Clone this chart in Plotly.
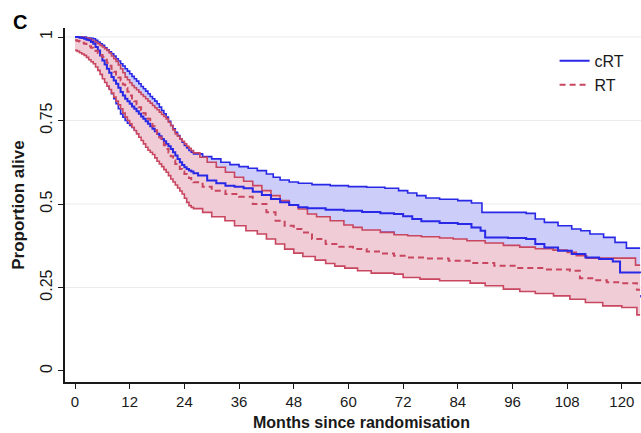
import plotly.graph_objects as go

# ---------------- data ----------------
# early follow-up read every half month (0 .. 26 months)
early_months = [0, 0.5, 1, 1.5, 2, 2.5, 3, 3.5, 4, 4.5,
                5, 5.5, 6, 6.5, 7, 7.5, 8, 8.5, 9, 9.5,
                10, 10.5, 11, 11.5, 12, 12.5, 13, 13.5, 14, 14.5,
                15, 15.5, 16, 16.5, 17, 17.5, 18, 18.5, 19, 19.5,
                20, 20.5, 21, 21.5, 22, 22.5, 23, 23.5, 24, 24.5,
                25, 25.5, 26]

# cRT Kaplan-Meier estimate
crt_surv_early = [1.0, 1.0, 0.998, 0.997, 0.995, 0.992, 0.99, 0.985, 0.98, 0.97,
                  0.96, 0.945, 0.93, 0.918, 0.905, 0.893, 0.88, 0.87, 0.86, 0.848,
                  0.835, 0.825, 0.815, 0.808, 0.80, 0.792, 0.785, 0.778, 0.77, 0.762,
                  0.755, 0.748, 0.74, 0.733, 0.725, 0.718, 0.71, 0.703, 0.695, 0.688,
                  0.68, 0.673, 0.665, 0.655, 0.645, 0.635, 0.625, 0.617, 0.61, 0.605,
                  0.60, 0.597, 0.592]
crt_months_late = [27, 29, 31, 33, 35, 37, 39, 41, 43, 45, 47, 49, 51, 55, 59, 63, 67, 70, 72, 74, 76, 80, 84, 87,
                   89, 90, 95, 99, 101, 103, 106, 109, 112, 115, 118, 119.6, 124]
crt_surv_late = [0.585, 0.57, 0.562, 0.555, 0.552, 0.547, 0.537, 0.527, 0.515, 0.505, 0.497, 0.49, 0.487, 0.483,
                 0.48, 0.476, 0.472, 0.47, 0.463, 0.455, 0.448, 0.443, 0.44, 0.43, 0.42, 0.40, 0.398, 0.395, 0.38,
                 0.37, 0.36, 0.35, 0.34, 0.335, 0.328, 0.295, 0.293]

# cRT upper confidence limit
crt_upper_early = [1.0, 1.0, 1.0, 1.0, 1.0, 0.998, 0.997, 0.996, 0.995, 0.99,
                   0.985, 0.98, 0.975, 0.968, 0.962, 0.956, 0.95, 0.943, 0.935, 0.928,
                   0.92, 0.913, 0.905, 0.898, 0.89, 0.882, 0.875, 0.868, 0.86, 0.852,
                   0.845, 0.838, 0.83, 0.822, 0.815, 0.808, 0.80, 0.79, 0.78, 0.77,
                   0.76, 0.748, 0.735, 0.725, 0.715, 0.705, 0.695, 0.685, 0.675, 0.668,
                   0.66, 0.655, 0.65]
crt_upper_months_late = [28, 30, 32, 34, 36, 38, 40, 42, 43.5, 45, 47, 49, 52, 56, 60, 64, 68, 71, 73, 75, 77, 80,
                         84, 87, 89.3, 99, 101, 103, 106, 109, 111, 113, 116, 118.5, 121, 124]
crt_upper_late = [0.642, 0.635, 0.625, 0.618, 0.612, 0.607, 0.60, 0.59, 0.58, 0.572, 0.566, 0.562, 0.558, 0.555,
                  0.552, 0.55, 0.547, 0.54, 0.533, 0.525, 0.518, 0.514, 0.51, 0.503, 0.475, 0.472, 0.455, 0.445,
                  0.435, 0.425, 0.42, 0.41, 0.40, 0.385, 0.368, 0.368]

# cRT lower confidence limit
crt_lower_early = [1.0, 0.998, 0.995, 0.99, 0.985, 0.973, 0.96, 0.948, 0.935, 0.922,
                   0.91, 0.898, 0.885, 0.873, 0.86, 0.845, 0.83, 0.815, 0.80, 0.785,
                   0.77, 0.76, 0.75, 0.742, 0.735, 0.729, 0.723, 0.716, 0.71, 0.704,
                   0.698, 0.691, 0.685, 0.677, 0.67, 0.662, 0.655, 0.648, 0.64, 0.633,
                   0.625, 0.618, 0.61, 0.603, 0.595, 0.586, 0.577, 0.568, 0.56, 0.553,
                   0.546, 0.54, 0.535]
crt_lower_months_late = [27, 30, 35, 40, 45, 50, 60, 70, 76, 84, 90, 100, 105, 112, 119.6, 124]
crt_lower_late = [0.53, 0.51, 0.49, 0.465, 0.44, 0.425, 0.415, 0.405, 0.38, 0.37, 0.33, 0.32, 0.295, 0.27, 0.225,
                  0.22]

# RT Kaplan-Meier estimate
rt_surv_early = [0.99, 0.988, 0.986, 0.983, 0.98, 0.976, 0.972, 0.968, 0.965, 0.958,
                 0.952, 0.946, 0.94, 0.932, 0.923, 0.914, 0.905, 0.896, 0.888, 0.879,
                 0.87, 0.858, 0.847, 0.836, 0.825, 0.816, 0.808, 0.799, 0.79, 0.781,
                 0.772, 0.763, 0.755, 0.744, 0.733, 0.721, 0.71, 0.699, 0.688, 0.676,
                 0.665, 0.654, 0.643, 0.631, 0.62, 0.612, 0.605, 0.597, 0.59, 0.584,
                 0.578, 0.571, 0.565]
rt_months_late = [28, 30, 33, 36, 39, 42, 44, 46, 48, 50, 52, 55, 58, 61, 64, 67, 70, 73, 77, 82, 87, 92, 97, 103,
                  108.6, 110.8, 114, 116.7, 120, 123.3, 124]
rt_surv_late = [0.552, 0.54, 0.53, 0.522, 0.50, 0.475, 0.45, 0.435, 0.425, 0.415, 0.395, 0.38, 0.372, 0.365,
                0.358, 0.352, 0.345, 0.34, 0.337, 0.33, 0.323, 0.315, 0.308, 0.304, 0.30, 0.278, 0.272, 0.266,
                0.263, 0.243, 0.243]

# RT upper confidence limit
rt_upper_early = [1.0, 1.0, 1.0, 0.999, 0.998, 0.997, 0.995, 0.991, 0.987, 0.984,
                  0.98, 0.975, 0.97, 0.965, 0.96, 0.952, 0.943, 0.935, 0.927, 0.916,
                  0.905, 0.893, 0.88, 0.872, 0.863, 0.855, 0.848, 0.842, 0.835, 0.828,
                  0.822, 0.815, 0.808, 0.802, 0.795, 0.788, 0.782, 0.775, 0.768, 0.762,
                  0.755, 0.745, 0.735, 0.722, 0.71, 0.703, 0.695, 0.688, 0.68, 0.673,
                  0.667, 0.66, 0.653]
rt_upper_months_late = [27.4, 29, 31, 33, 35, 37, 39, 41, 43, 45, 47, 49, 51, 53, 56, 59, 61, 63, 67, 70, 73, 76,
                        80, 83, 86, 90, 94, 97.6, 101, 104.9, 108, 110, 112.3, 120, 123, 124]
rt_upper_late = [0.64, 0.625, 0.61, 0.595, 0.58, 0.568, 0.555, 0.54, 0.525, 0.51, 0.497, 0.485, 0.47, 0.462, 0.45,
                 0.437, 0.43, 0.422, 0.415, 0.408, 0.405, 0.402, 0.398, 0.395, 0.39, 0.383, 0.376, 0.371, 0.366,
                 0.362, 0.355, 0.345, 0.338, 0.338, 0.317, 0.317]

# RT lower confidence limit
rt_lower_early = [0.96, 0.957, 0.953, 0.949, 0.945, 0.939, 0.932, 0.926, 0.92, 0.91,
                  0.90, 0.888, 0.875, 0.864, 0.853, 0.843, 0.832, 0.82, 0.808, 0.797,
                  0.785, 0.772, 0.76, 0.75, 0.74, 0.73, 0.72, 0.71, 0.70, 0.69,
                  0.68, 0.67, 0.661, 0.655, 0.648, 0.638, 0.628, 0.62, 0.612, 0.603,
                  0.595, 0.585, 0.575, 0.566, 0.557, 0.548, 0.539, 0.53, 0.517, 0.505,
                  0.495, 0.49, 0.486]
rt_lower_months_late = [28, 30, 32.9, 35, 37.5, 40, 42, 44, 46, 48, 50, 52.7, 55, 57, 59.2, 62, 65, 70, 72, 75.7,
                        80, 86.7, 90, 94, 97.6, 101, 105, 108.6, 112, 115.8, 120, 123.3, 124]
rt_lower_late = [0.475, 0.462, 0.45, 0.435, 0.42, 0.41, 0.395, 0.38, 0.365, 0.353, 0.343, 0.332, 0.322, 0.314,
                 0.308, 0.30, 0.293, 0.29, 0.28, 0.275, 0.27, 0.263, 0.255, 0.245, 0.238, 0.232, 0.225, 0.215,
                 0.205, 0.195, 0.19, 0.168, 0.168]

x_ticks = [0, 12, 24, 36, 48, 60, 72, 84, 96, 108, 120]
y_ticks = [0, 0.25, 0.5, 0.75, 1]
y_tick_labels = ["0", "0.25", "0.5", "0.75", "1"]

# full series
crt_months = early_months + crt_months_late
crt_surv = crt_surv_early + crt_surv_late
crt_up_months = early_months + crt_upper_months_late
crt_upper = crt_upper_early + crt_upper_late
crt_lo_months = early_months + crt_lower_months_late
crt_lower = crt_lower_early + crt_lower_late
rt_months = early_months + rt_months_late
rt_surv = rt_surv_early + rt_surv_late
rt_up_months = early_months + rt_upper_months_late
rt_upper = rt_upper_early + rt_upper_late
rt_lo_months = early_months + rt_lower_months_late
rt_lower = rt_lower_early + rt_lower_late

# ---------------- styles ----------------
BLUE = "rgb(40,40,230)"
RED = "rgb(200,70,95)"
BLUE_FILL = "rgb(205,205,250)"
RED_FILL = "rgb(240,204,214)"
FONT = "Liberation Sans, Arial, sans-serif"
TEXT = "rgb(25,25,25)"

fig = go.Figure()

# cRT confidence band (fill + outline)
fig.add_trace(go.Scatter(x=crt_up_months, y=crt_upper, mode="lines", line=dict(color=BLUE, width=0, shape="hv"),
                         showlegend=False, hoverinfo="skip"))
fig.add_trace(go.Scatter(x=crt_lo_months, y=crt_lower, mode="lines", line=dict(color=BLUE, width=1.6, shape="hv"),
                         fill="tonexty", fillcolor=BLUE_FILL, showlegend=False, hoverinfo="skip"))
# RT confidence band (opaque, drawn over cRT band)
fig.add_trace(go.Scatter(x=rt_up_months, y=rt_upper, mode="lines", line=dict(color=RED, width=0, shape="hv"),
                         showlegend=False, hoverinfo="skip"))
fig.add_trace(go.Scatter(x=rt_lo_months, y=rt_lower, mode="lines", line=dict(color=RED, width=1.6, shape="hv"),
                         fill="tonexty", fillcolor=RED_FILL, showlegend=False, hoverinfo="skip"))
# band outlines on top
fig.add_trace(go.Scatter(x=crt_up_months, y=crt_upper, mode="lines", line=dict(color=BLUE, width=1.6, shape="hv"),
                         showlegend=False, hoverinfo="skip"))
fig.add_trace(go.Scatter(x=rt_up_months, y=rt_upper, mode="lines", line=dict(color=RED, width=1.6, shape="hv"),
                         showlegend=False, hoverinfo="skip"))
# estimates
fig.add_trace(go.Scatter(x=crt_months, y=crt_surv, mode="lines", name="cRT",
                         line=dict(color=BLUE, width=2, shape="hv")))
fig.add_trace(go.Scatter(x=rt_months, y=rt_surv, mode="lines", name="RT",
                         line=dict(color=RED, width=2, shape="hv", dash="6px,4px")))

# horizontal grid lines at y ticks (except 0)
for v in y_ticks[1:]:
    fig.add_shape(type="line", xref="paper", yref="y", x0=0, x1=1, y0=v, y1=v,
                  line=dict(color="rgb(234,236,236)", width=1.2), layer="below")

fig.update_layout(
    width=641, height=433,
    margin=dict(l=65, r=0, t=28, b=51),
    paper_bgcolor="white", plot_bgcolor="white",
    font=dict(family=FONT, size=16, color=TEXT),
    legend=dict(x=0.85, y=0.955, xanchor="left", yanchor="top", bgcolor="rgba(0,0,0,0)",
                font=dict(size=16), traceorder="normal", tracegroupgap=0, itemwidth=30),
    annotations=[
        dict(text="<b>C</b>", xref="paper", yref="paper", x=-0.094, y=1.053, xanchor="left",
             yanchor="top", showarrow=False, font=dict(size=20, color="black")),
        dict(text="<b>Months since randomisation</b>", xref="paper", yref="paper", x=0.514, y=-0.114,
             xanchor="center", yanchor="middle", showarrow=False, font=dict(size=16, color=TEXT)),
        dict(text="<b>Proportion alive</b>", xref="paper", yref="paper", x=-0.082, y=0.5, textangle=-90,
             xanchor="center", yanchor="middle", showarrow=False, font=dict(size=17, color=TEXT)),
    ],
)
fig.update_xaxes(range=[-2.2, 124.2], tickvals=x_ticks, ticks="outside", ticklen=5, tickwidth=1.2,
                 tickcolor=TEXT, showline=True, linecolor=TEXT, linewidth=1.6,
                 showgrid=False, zeroline=False, tickfont=dict(size=15))
fig.update_yaxes(range=[-0.033, 1.027], tickvals=y_ticks, ticktext=y_tick_labels, tickangle=-90,
                 ticks="outside", ticklen=5, tickwidth=1.2, tickcolor=TEXT,
                 showline=True, linecolor=TEXT, linewidth=1.6, showgrid=False, zeroline=False,
                 tickfont=dict(size=16))

fig.write_html("out.html")
